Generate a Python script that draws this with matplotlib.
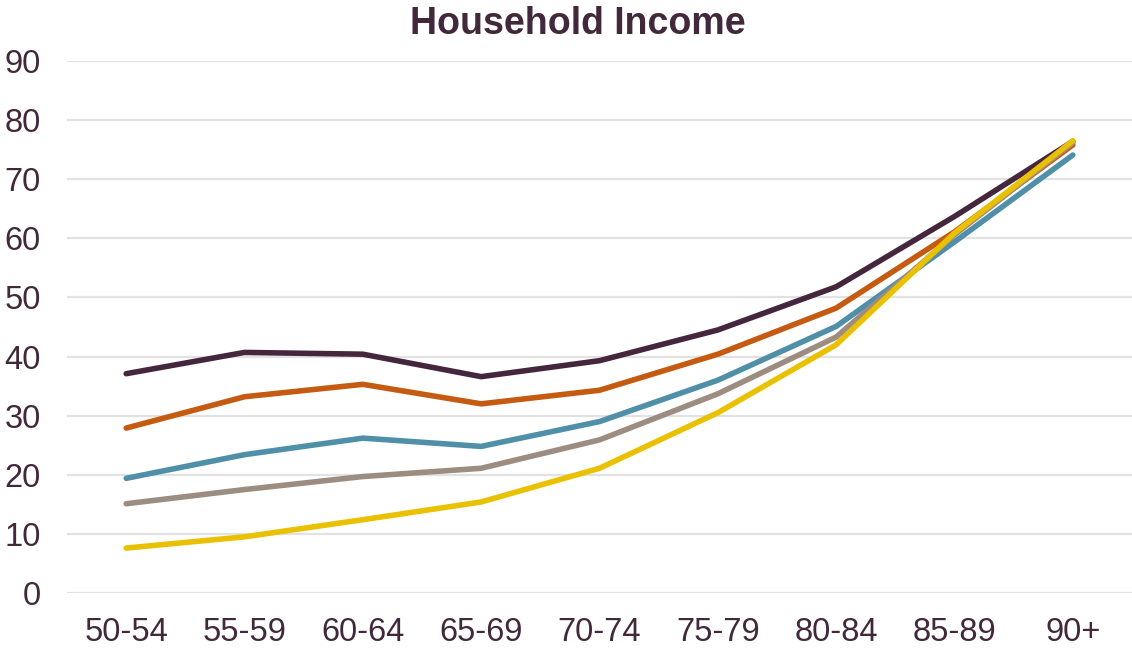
import matplotlib.pyplot as plt

plt.rcParams['font.family'] = ['Liberation Sans', 'DejaVu Sans']

age_groups = ['50-54', '55-59', '60-64', '65-69', '70-74', '75-79', '80-84', '85-89', '90+']

q1 = [37.1, 40.7, 40.4, 36.6, 39.3, 44.5, 51.8, 63.7, 76.4]
q2 = [27.9, 33.2, 35.3, 32.0, 34.3, 40.4, 48.2, 61.1, 75.8]
q3 = [19.4, 23.4, 26.2, 24.8, 29.0, 36.0, 45.1, 59.4, 74.1]
q4 = [15.1, 17.5, 19.7, 21.1, 25.9, 33.7, 43.3, 60.6, 76.2]
q5 = [7.6, 9.5, 12.4, 15.4, 21.1, 30.5, 42.0, 60.9, 76.5]

series = [q1, q2, q3, q4, q5]
colors = ['#44273D', '#C55A11', '#4F8FA8', '#9C8D80', '#EAC100']
text_color = '#41283B'

fig = plt.figure(figsize=(11.32, 6.49), dpi=100)
ax = fig.add_axes([0.0592, 0.0863, 0.9408, 0.8197])

x = range(len(age_groups))
for vals, c in zip(series, colors):
    ax.plot(x, vals, color=c, lw=4.0, solid_capstyle='round', solid_joinstyle='round', zorder=3)

ax.set_xlim(-0.5, len(age_groups) - 0.5)
ax.set_ylim(0, 90)
ax.set_yticks(range(0, 91, 10))
ax.set_xticks(list(x))
ax.set_xticklabels(age_groups)
ax.grid(axis='y', color='#E2E2E2', lw=1.6, zorder=0)
ax.tick_params(length=0, labelsize=23.5, colors=text_color)
ax.tick_params(axis='x', pad=17)
ax.tick_params(axis='y', pad=19)
for s in ax.spines.values():
    s.set_visible(False)

fig.text(0.51, 0.963, 'Household Income', ha='center', va='center',
         fontsize=27, fontweight='bold', color=text_color)

fig.savefig('out.png', dpi=100)
